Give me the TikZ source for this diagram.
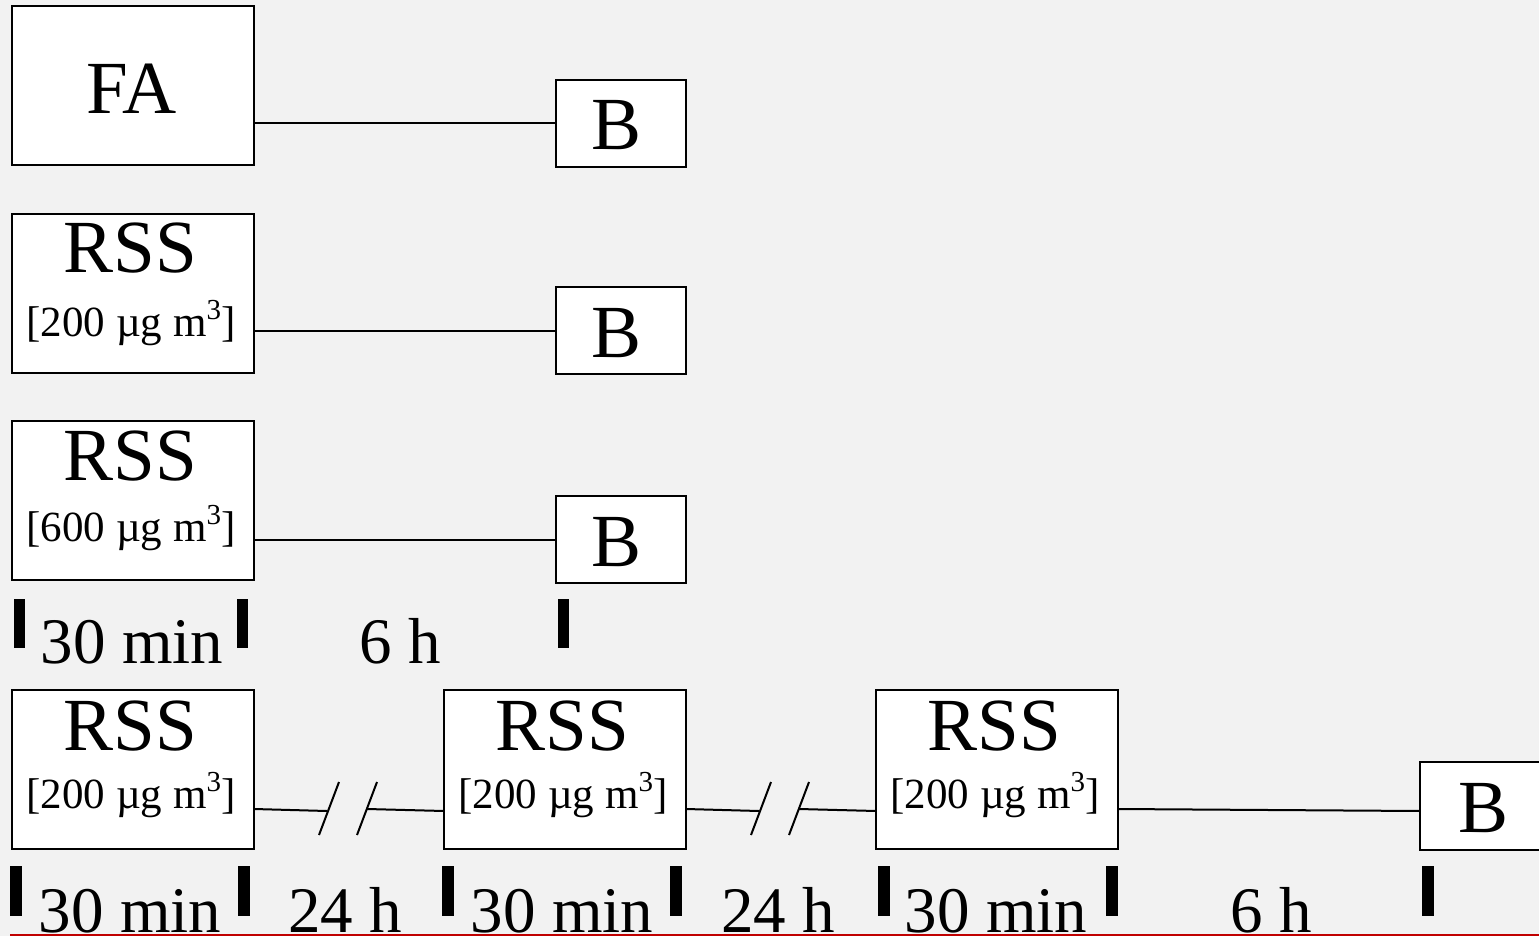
\documentclass[tikz,border=0pt]{standalone}
\usepackage{fontspec}
\setmainfont{Liberation Serif}
\usetikzlibrary{calc}
\definecolor{bg}{HTML}{F2F2F2}
\definecolor{redline}{HTML}{C00000}
\newcommand{\supthree}{\raisebox{17pt}{\fontsize{29}{30}\selectfont 3}}
\tikzset{
  box/.style={draw, line width=2pt, fill=white, inner sep=0pt, outer sep=0pt, anchor=north west},
  bigbox/.style={box, minimum width=242pt, minimum height=159pt},
  bbox/.style={box, minimum width=130pt, minimum height=87pt},
  bigtxt/.style={font=\fontsize{75}{80}\selectfont, anchor=base, inner sep=0pt},
  smalltxt/.style={font=\fontsize{43}{50}\selectfont, anchor=base, inner sep=0pt},
  lbl/.style={font=\fontsize{65}{70}\selectfont, anchor=base, inner sep=0pt},
  tick/.style={fill=black, draw=none, inner sep=0pt, minimum width=11pt, minimum height=49pt},
  conn/.style={line width=2pt},
}
\begin{document}
\begin{tikzpicture}[x=1pt, y=-1pt]
\fill[bg] (0,0) rectangle (1539,936);
\useasboundingbox (0,0) rectangle (1539,936);

% Row 1
\node[bigbox] (fa) at (12,6) {};
\node[bbox] (b1) at (556,80) {};
\node[bigtxt] (tfa) at (132,114) {FA};
\node[bigtxt] (tb1) at (617,150) {B};
\draw[conn] (fa.east |- b1.west) -- (b1.west);

% Row 2
\node[bigbox] (r2) at (12,214) {};
\node[bbox] (b2) at (556,287) {};
\node[bigtxt] (tr2) at (130,272) {RSS};
\node[smalltxt] (sr2) at (131,336) {[200 µg m\supthree]};
\node[bigtxt] (tb2) at (617,357) {B};
\draw[conn] (r2.east |- b2.west) -- (b2.west);

% Row 3
\node[bigbox] (r3) at (12,421) {};
\node[bbox] (b3) at (556,496) {};
\node[bigtxt] (tr3) at (130,480) {RSS};
\node[smalltxt] (sr3) at (131,541) {[600 µg m\supthree]};
\node[bigtxt] (tb3) at (617,566) {B};
\draw[conn] (r3.east |- b3.west) -- (b3.west);

% Row 3 timeline
\node[tick] (k1) at (19,623) {};
\node[tick] (k2) at (242,623) {};
\node[tick] (k3) at (563,623) {};
\node[lbl] (l1) at (132,663) {30 min};
\node[lbl] (l2) at (400,663) {6 h};

% Row 4
\node[bigbox] (p1) at (12,690) {};
\node[bigbox] (p2) at (444,690) {};
\node[bigbox] (p3) at (876,690) {};
\node[box, minimum width=140pt, minimum height=88pt] (b4) at (1420,762) {};
\node[bigtxt] (tp1) at (130,750) {RSS};
\node[smalltxt] (sp1) at (131,808) {[200 µg m\supthree]};
\node[bigtxt] (tp2) at (562,750) {RSS};
\node[smalltxt] (sp2) at (563,808) {[200 µg m\supthree]};
\node[bigtxt] (tp3) at (994,750) {RSS};
\node[smalltxt] (sp3) at (995,808) {[200 µg m\supthree]};
\node[bigtxt] (tb4) at (1483,832) {B};

% connectors with breaks
\coordinate (a1) at (327,811);
\coordinate (a2) at (367,809);
\draw[conn] (p1.east |- 0,809) -- (a1);
\draw[conn] (319,835) -- (339,782);
\draw[conn] (357,835) -- (377,782);
\draw[conn] (a2) -- (p2.west |- 0,811);
\coordinate (c1) at (759,811);
\coordinate (c2) at (799,809);
\draw[conn] (p2.east |- 0,809) -- (c1);
\draw[conn] (751,835) -- (771,782);
\draw[conn] (789,835) -- (809,782);
\draw[conn] (c2) -- (p3.west |- 0,811);
\draw[conn] (p3.east |- 0,809) -- (b4.west |- 0,811);

% Row 4 timeline
\node[tick, minimum width=12pt, minimum height=50pt] (m1) at (16,891) {};
\node[tick, minimum width=12pt, minimum height=50pt] (m2) at (244,891) {};
\node[tick, minimum width=12pt, minimum height=50pt] (m3) at (448,891) {};
\node[tick, minimum width=12pt, minimum height=50pt] (m4) at (676,891) {};
\node[tick, minimum width=12pt, minimum height=50pt] (m5) at (884,891) {};
\node[tick, minimum width=12pt, minimum height=50pt] (m6) at (1112,891) {};
\node[tick, minimum width=12pt, minimum height=50pt] (m7) at (1428,891) {};
\node[lbl] (n1) at (130,932) {30 min};
\node[lbl] (n2) at (345,932) {24 h};
\node[lbl] (n3) at (562,932) {30 min};
\node[lbl] (n4) at (778,932) {24 h};
\node[lbl] (n5) at (996,932) {30 min};
\node[lbl] (n6) at (1271,932) {6 h};

\draw[redline, line width=1.5pt] (10,935) -- (1539,935);
\end{tikzpicture}
\end{document}
